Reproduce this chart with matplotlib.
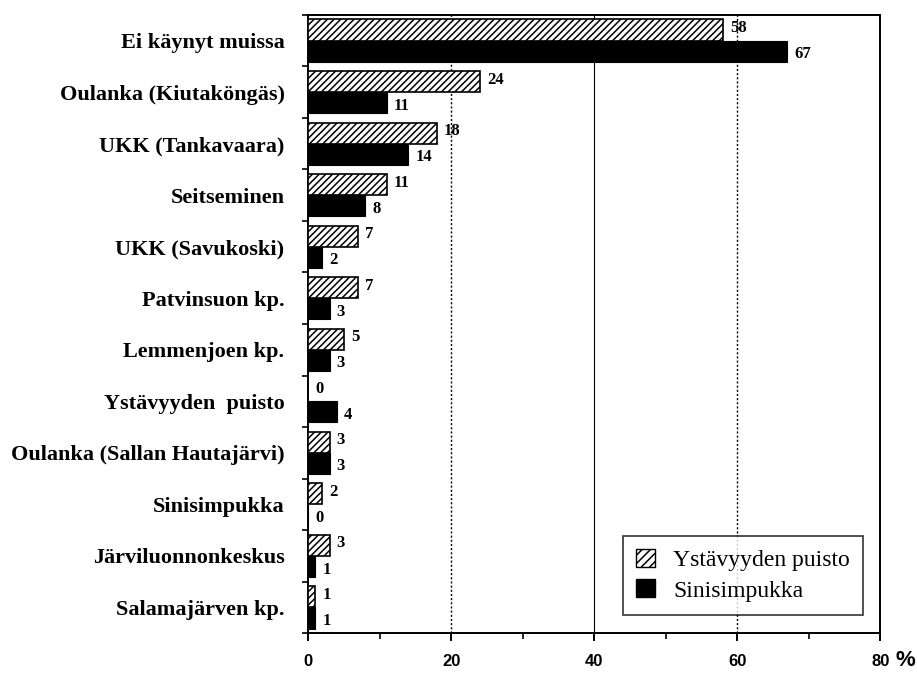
import matplotlib
matplotlib.use("Agg")
import matplotlib.pyplot as plt
import numpy as np
from matplotlib.patches import Patch
from matplotlib.ticker import MultipleLocator

plt.rcParams['font.family'] = ['Liberation Serif', 'DejaVu Serif']
plt.rcParams['hatch.linewidth'] = 1.1

categories = ["Ei käynyt muissa", "Oulanka (Kiutaköngäs)", "UKK (Tankavaara)",
              "Seitseminen", "UKK (Savukoski)", "Patvinsuon kp.", "Lemmenjoen kp.",
              "Ystävyyden  puisto", "Oulanka (Sallan Hautajärvi)", "Sinisimpukka",
              "Järviluonnonkeskus", "Salamajärven kp."]
ystavyyden = [58, 24, 18, 11, 7, 7, 5, 0, 3, 2, 3, 1]
sinisimpukka = [67, 11, 14, 8, 2, 3, 3, 4, 3, 0, 1, 1]
series_names = ["Ystävyyden puisto", "Sinisimpukka"]
xticks = [0, 20, 40, 60, 80]

fig = plt.figure(figsize=(9.17, 6.75), dpi=100)
ax = fig.add_axes([0.336, 0.062, 0.624, 0.916])

n = len(categories)
y = np.arange(n)
h = 0.41
ax.barh(y - h/2, ystavyyden, height=h, color='white', edgecolor='black',
        hatch='/////', linewidth=1.2, zorder=3)
ax.barh(y + h/2, sinisimpukka, height=h, color='black', edgecolor='black',
        linewidth=0.8, zorder=3)

for i in range(n):
    ax.text(ystavyyden[i] + 1.0, y[i] - h/2 - 0.04, str(ystavyyden[i]),
            va='center', ha='left', fontsize=12, fontweight='bold', zorder=4)
    ax.text(sinisimpukka[i] + 1.0, y[i] + h/2 + 0.06, str(sinisimpukka[i]),
            va='center', ha='left', fontsize=12, fontweight='bold', zorder=4)

ax.set_ylim(n - 0.5, -0.5)
ax.set_xlim(0, 80)
ax.set_yticks(y)
ax.set_yticklabels(categories, fontsize=16, fontweight='bold')
ax.tick_params(axis='y', length=0, pad=17)
ax.set_yticks(np.arange(n + 1) - 0.5, minor=True)
ax.tick_params(axis='y', which='minor', length=4, width=1.2, direction='out')

ax.set_xticks(xticks)
ax.set_xticklabels([str(t) for t in xticks], fontsize=12, fontweight='bold',
                   family=['Liberation Sans Narrow', 'Liberation Sans', 'DejaVu Sans'])
ax.xaxis.set_minor_locator(MultipleLocator(10))
ax.tick_params(axis='x', which='major', length=6, width=1.4, direction='out', pad=9)
ax.tick_params(axis='x', which='minor', length=4, width=1.2, direction='out')

ax.axvline(20, color='black', linestyle=(0, (1.5, 1.5)), linewidth=1, zorder=1)
ax.axvline(40, color='black', linestyle='-', linewidth=0.8, zorder=1)
ax.axvline(60, color='black', linestyle=(0, (1.5, 1.5)), linewidth=1, zorder=1)

for s in ax.spines.values():
    s.set_linewidth(1.4)

fig.text(0.998, 0.021, "%", fontsize=16, fontweight='bold', ha='right', va='center',
         family=['Liberation Sans Narrow', 'Liberation Sans', 'DejaVu Sans'])

handles = [Patch(facecolor='white', edgecolor='black', hatch='////', label=series_names[0]),
           Patch(facecolor='black', edgecolor='black', label=series_names[1])]
leg = ax.legend(handles=handles, loc='lower right', bbox_to_anchor=(0.97, 0.03),
                fontsize=17, frameon=True, fancybox=False, edgecolor='black',
                handlelength=0.8, handleheight=0.8, handletextpad=0.8,
                borderpad=0.55, labelspacing=0.35, borderaxespad=0)
leg.get_frame().set_linewidth(1.2)

fig.savefig("out.png", dpi=100)
